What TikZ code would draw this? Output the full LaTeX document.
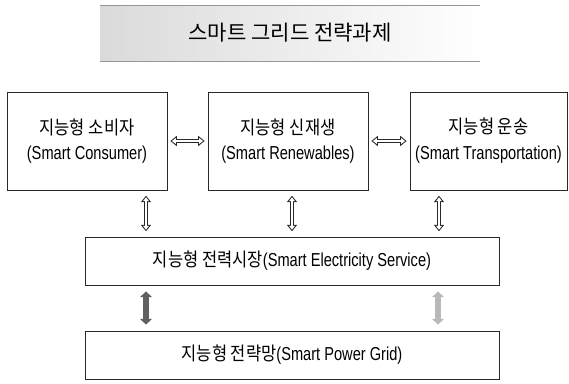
\documentclass[tikz,border=0pt]{standalone}
\usepackage{fontspec}
\setmainfont[FakeStretch=0.78]{Liberation Sans}
\newfontfamily\kr[FakeStretch=0.88]{Noto Sans CJK KR}
\newfontfamily\krtitle{Noto Sans CJK KR}
\usetikzlibrary{arrows.meta,positioning,calc}
\definecolor{ink}{RGB}{40,40,40}
\definecolor{dotgray}{RGB}{150,150,150}

\begin{document}
\begin{tikzpicture}[x=0.03cm, y=-0.03cm,
      box/.style={rectangle, draw=ink, thick, fill=white, align=center,
                  font=\fontsize{16}{22}\selectfont, inner sep=0pt},
      area/.style={box, minimum width=160*0.03cm, minimum height=98*0.03cm},
      wide/.style={box, minimum width=414*0.03cm, minimum height=48*0.03cm},
      hollow/.style={ink, line width=3.6pt, shorten <=#1, shorten >=#1,
                     {Triangle[length=5.5pt,width=8.5pt]}-{Triangle[length=5.5pt,width=8.5pt]},
                     postaction={draw=white, line width=2pt,
                       shorten <=#1+1.3pt, shorten >=#1+1.3pt,
                       {Triangle[length=3.3pt,width=4.8pt]}-{Triangle[length=3.3pt,width=4.8pt]}}},
      solidarr/.style={line width=5pt, {Triangle[length=5pt,width=10pt]}-{Triangle[length=5pt,width=10pt]}}]
    \useasboundingbox (0,0) rectangle (569,383);
    % title band
    \node[rectangle, left color=dotgray!35, right color=white, minimum width=380*0.03cm,
          minimum height=56*0.03cm, inner sep=0pt, font=\krtitle\fontsize{18}{20}\selectfont]
          (title) at (290,33) {스마트 그리드 전략과제};
    \draw[dotgray] (title.north west) -- (title.north east);
    \draw[dotgray] (title.south west) -- (title.south east);
    % three smart areas
    \node[area] (cons) at (87,141) {{\kr 지능형 소비자}\\(Smart Consumer)};
    \node[area] (renew) at (288,141) {{\kr 지능형 신재생}\\(Smart Renewables)};
    \node[area, minimum width=157*0.03cm] (trans) at (488.5,141)
      {{\kr 지능형 운송}\\(Smart Transportation)};
    % service and grid layers
    \node[wide] (market) at (292,261) {{\kr 지능형 전력시장}(Smart Electricity Service)};
    \node[wide] (grid) at (292,355) {{\kr 지능형 전략망}(Smart Power Grid)};
    % links between areas
    \draw[hollow=2.5pt] (cons) -- (renew);
    \draw[hollow=2.5pt] (renew) -- (trans);
    \foreach \xx/\src in {146/cons, 292/renew, 439/trans}{
      \coordinate (v\src) at (\xx,0);
      \draw[hollow=4.5pt] (\src.south -| v\src) -- (market.north -| v\src);
    }
    % market to grid
    \coordinate (gl) at (146,0);
    \coordinate (gr) at (438,0);
    \draw[solidarr, gray!75!black, shorten <=5pt, shorten >=5pt] (market.south -| gl) -- (grid.north -| gl);
    \draw[solidarr, gray!55, shorten <=5pt, shorten >=5pt] (market.south -| gr) -- (grid.north -| gr);
  \end{tikzpicture}
\end{document}
